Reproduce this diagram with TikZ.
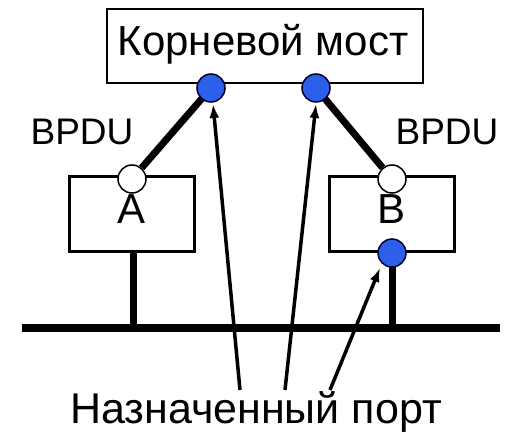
\documentclass[tikz,border=0pt]{standalone}
\usepackage{fontspec}
\setmainfont{Liberation Sans}
\usetikzlibrary{arrows.meta}
\definecolor{portblue}{RGB}{45,95,235}
\begin{document}
\begin{tikzpicture}[
            x=1pt, y=-1pt,
            box/.style={draw, line width=2.5pt, inner sep=0pt},
            port/.style={circle, draw, line width=1.5pt, minimum size=28pt, inner sep=0pt},
            desig/.style={port, fill=portblue, draw=black!80!blue},
            plain/.style={port, fill=white},
            link/.style={line width=7pt},
            pointer/.style={line width=3.5pt, -{Latex[length=14pt,width=10pt]}}
        ]
        \useasboundingbox (0,0) rectangle (506,438);
        \node[box, minimum width=316pt, minimum height=74pt] (root) at (265,46) {};
        \node[font=\fontsize{42}{42}\selectfont] (rootlabel) at (263,44) {Корневой мост};
        \node[box, minimum width=125pt, minimum height=75pt] (a) at (132,214) {};
        \node[box, minimum width=125pt, minimum height=75pt] (b) at (392,214) {};
        \node[font=\fontsize{42}{42}\selectfont] (alabel) at (132,209) {A};
        \node[font=\fontsize{42}{42}\selectfont] (blabel) at (392,209) {B};
        \node[font=\fontsize{37}{37}\selectfont] (bpdul) at (82,132) {BPDU};
        \node[font=\fontsize{37}{37}\selectfont] (bpdur) at (447,132) {BPDU};
        \node[font=\fontsize{43}{43}\selectfont] (target) at (256,412) {Назначенный порт};
        % bus
        \coordinate (busl) at (22,328);
        \coordinate (busr) at (500,328);
        \coordinate (stuba) at (133,328);
        \coordinate (stubb) at (392,328);
        \draw[line width=8pt] (busl) -- (busr);
        \draw[link] (a.south -| stuba) -- (stuba);
        \draw[link] (392,253) -- (stubb);
        % ports
        \node[plain] (pa) at (132,179) {};
        \node[plain] (pb) at (392,179) {};
        \draw[link] (pa) -- (211,88);
        \draw[link] (pb) -- (316,88);
        \node[desig] (r1) at (211,88) {};
        \node[desig] (r2) at (316,88) {};
        \node[desig] (p3) at (392,253) {};
        % arrows
        \coordinate (t1) at (240,390);
        \coordinate (t2) at (285,390);
        \coordinate (t3) at (330,390);
        \draw[pointer] (t1) -- (213,104);
        \draw[pointer] (t2) -- (316,104);
        \draw[pointer] (t3) -- (380,268);
    \end{tikzpicture}
\end{document}
